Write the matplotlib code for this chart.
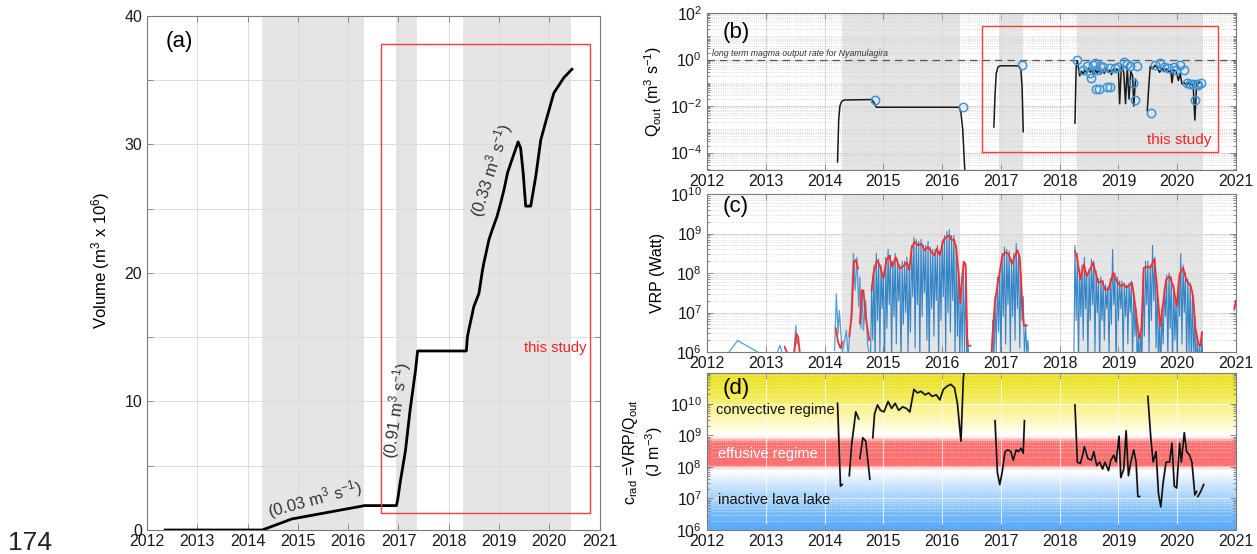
import numpy as np
import matplotlib
matplotlib.use('Agg')
import matplotlib.pyplot as plt
from matplotlib.ticker import FixedLocator, FuncFormatter, MultipleLocator, NullFormatter
from matplotlib.patches import Rectangle

plt.rcParams['font.family'] = ['Liberation Sans', 'DejaVu Sans']
plt.rcParams['mathtext.fontset'] = 'custom'
plt.rcParams['mathtext.rm'] = 'Liberation Sans'
plt.rcParams['mathtext.it'] = 'Liberation Sans:italic'
plt.rcParams['mathtext.default'] = 'regular'

# ---------------- data ----------------
years = list(range(2012, 2022))
shade_spans = [(2014.29, 2016.31), (2016.96, 2017.37), (2018.29, 2020.44)]

# (a) cumulative volume (10^6 m^3)
vol_t = [2012.36, 2014.29, 2014.88, 2016.33, 2016.96, 2016.99, 2017.03, 2017.14, 2017.23, 2017.34, 2017.38,
         2018.35, 2018.37, 2018.40, 2018.50, 2018.60, 2018.67, 2018.70, 2018.80, 2018.86, 2018.96, 2019.03,
         2019.10, 2019.17, 2019.23, 2019.30, 2019.38, 2019.43, 2019.48, 2019.53, 2019.63, 2019.73, 2019.83,
         2019.96, 2020.09, 2020.19, 2020.29, 2020.45]
vol_v = [0, 0, 0.86, 1.9, 1.9, 2.5, 3.6, 6.2, 9.3, 12.45, 13.93,
         13.93, 15.0, 15.6, 17.4, 18.4, 20.2, 20.8, 22.6, 23.3, 24.4, 25.4,
         26.5, 27.8, 28.5, 29.3, 30.2, 29.7, 27.8, 25.2, 25.2, 27.5, 30.35,
         32.2, 34.0, 34.6, 35.2, 35.85]

# (b) Q_out, log10 (m^3/s)
q_seg1_t = [2014.22, 2014.24, 2014.26, 2014.29, 2014.33, 2014.80, 2014.84, 2014.88, 2016.29, 2016.32, 2016.35, 2016.37, 2016.39]
q_seg1_v = [-4.4, -2.6, -2.0, -1.8, -1.74, -1.72, -1.85, -2.05, -2.05, -2.3, -3.0, -4.0, -5.0]
q_seg2_t = [2016.88, 2016.90, 2016.92, 2016.95, 2016.99, 2017.30, 2017.34, 2017.36, 2017.38]
q_seg2_v = [-2.9, -1.5, -0.6, -0.32, -0.27, -0.27, -0.45, -1.2, -3.1]
q_seg3_t = [2018.26, 2018.28, 2018.30, 2018.34, 2018.37, 2018.40, 2018.43, 2018.46, 2018.49, 2018.52, 2018.55,
            2018.58, 2018.61, 2018.64, 2018.67, 2018.70, 2018.73, 2018.76, 2018.79, 2018.82, 2018.85, 2018.88,
            2018.91, 2018.94, 2018.97, 2019.00, 2019.02, 2019.05, 2019.09, 2019.12, 2019.15, 2019.18, 2019.21,
            2019.24, 2019.26, 2019.29]
q_seg3_v = [-2.74, -0.3, -0.05, -0.7, -0.5, -0.62, -0.42, -0.6, -0.38, -0.55, -0.42,
            -0.65, -0.45, -0.58, -0.4, -0.62, -0.45, -0.6, -0.38, -0.55, -0.45, -0.65,
            -0.42, -0.5, -0.4, -0.5, -1.9, -0.25, -0.55, -1.9, -0.35, -1.7, -0.5,
            -0.7, -2.0, -0.85]
q_seg4_t = [2019.49, 2019.52, 2019.54, 2019.58, 2019.62, 2019.66, 2019.70, 2019.74, 2019.78, 2019.82, 2019.86,
            2019.89, 2019.91, 2019.94, 2019.98, 2020.02, 2020.05, 2020.08, 2020.12, 2020.16, 2020.20, 2020.24,
            2020.27, 2020.30, 2020.33, 2020.38]
q_seg4_v = [-2.2, -1.0, -0.3, -0.4, -0.25, -0.35, -0.55, -0.35, -0.5, -0.4, -0.55,
            -0.45, -1.0, -0.45, -0.5, -0.9, -0.6, -1.05, -1.0, -1.1, -1.0, -1.1,
            -1.05, -2.6, -1.05, -1.0]
q_circ_t = [2014.85, 2016.36, 2017.36, 2018.30, 2018.40, 2018.46, 2018.52, 2018.54, 2018.56, 2018.60, 2018.63,
            2018.62, 2018.67, 2018.68, 2018.74, 2018.81, 2018.86, 2018.86, 2018.94, 2019.00, 2019.09, 2019.14,
            2019.20, 2019.25, 2019.28, 2019.32, 2019.55, 2019.62, 2019.71, 2019.77, 2019.85, 2019.94, 2019.98,
            2020.04, 2020.11, 2020.16, 2020.22, 2020.27, 2020.31, 2020.33, 2020.36, 2020.40]
q_circ_v = [-1.74, -2.02, -0.23, 0.0, -0.45, -0.28, -0.6, -0.81, -0.24, -0.14, -0.45,
            -1.28, -1.28, -0.28, -0.3, -1.17, -1.17, -0.36, -0.36, -0.3, -0.1, -0.2,
            -0.28, -1.0, -1.75, -0.28, -2.29, -0.24, -0.17, -0.3, -0.36, -0.3, -0.45,
            -0.24, -0.45, -1.0, -1.05, -1.05, -1.75, -1.05, -1.1, -1.02]
q_longterm = 1.0

# (c) VRP, log10 (W): raw (blue) and smoothed (red)
vrp_early_t = [[2012.36, 2012.52, 2012.92], [2013.19, 2013.24, 2013.28], [2013.48, 2013.51, 2013.53, 2013.55],
               [2014.17, 2014.20, 2014.23, 2014.25, 2014.30, 2014.34, 2014.37, 2014.40, 2014.45, 2014.49,
                2014.52, 2014.55, 2014.58, 2014.60, 2014.62, 2014.64, 2014.66, 2014.70, 2014.73, 2014.76],
               [2020.97, 2021.0]]
vrp_early_v = [[5.97, 6.29, 5.95], [5.97, 6.17, 5.97], [5.97, 6.67, 6.2, 6.3],
               [6.04, 7.47, 6.46, 7.05, 6.0, 6.3, 6.55, 5.9, 6.9, 8.5,
                7.56, 8.4, 7.14, 7.9, 6.6, 7.56, 6.55, 7.3, 6.2, 5.95],
               [7.05, 7.3]]
vrp_blue1_range = (2014.78, 2016.46)
vrp_blue1 = [5.6, 7.7, 6.3, 8.2, 5.7, 8.5, 6.8, 8.35, 6.0, 8.2, 7.1, 8.0, 5.5, 8.4, 6.6, 8.6, 7.2, 8.45, 5.8, 8.3,
             6.9, 8.5, 6.2, 8.35, 7.3, 8.2, 5.6, 8.3, 6.7, 8.3, 7.0, 8.4, 5.9, 8.15, 6.5, 8.7, 7.4, 8.9, 6.1, 8.85,
             7.2, 8.8, 5.7, 8.85, 6.9, 8.7, 7.5, 8.7, 6.3, 8.8, 5.6, 8.65, 7.1, 8.6, 6.4, 8.6, 7.3, 8.7, 5.8, 8.55,
             6.8, 8.8, 7.4, 8.95, 6.0, 9.05, 7.0, 9.1, 6.5, 8.95, 7.3, 8.95, 5.9, 8.7, 6.4, 8.1, 5.6, 7.5, 6.0, 8.3,
             5.7, 8.25, 5.5, 6.3, 5.5]
vrp_blue2_range = (2016.84, 2017.48)
vrp_blue2 = [5.5, 6.8, 5.6, 7.4, 6.0, 7.9, 6.5, 8.1, 5.7, 8.5, 6.9, 8.65, 6.2, 8.6, 7.2, 8.55, 5.9, 8.35, 6.9, 8.5,
             6.3, 8.75, 7.1, 8.5, 6.1, 8.0, 6.8, 7.4, 5.8, 6.7, 6.0, 6.3, 5.5]
vrp_blue3_range = (2018.24, 2020.44)
vrp_blue3 = [5.6, 8.7, 6.8, 8.5, 5.8, 8.1, 6.9, 8.2, 6.3, 8.4, 7.1, 8.0, 5.7, 8.1, 6.8, 8.35, 7.2, 8.3, 6.0, 8.05,
             7.0, 7.85, 5.6, 7.9, 6.8, 7.8, 6.3, 7.7, 7.1, 7.65, 5.9, 7.85, 6.7, 8.6, 7.2, 8.0, 5.5, 7.9, 6.8, 7.8,
             7.1, 7.8, 5.8, 7.75, 6.9, 7.7, 6.2, 7.75, 7.0, 7.8, 5.7, 7.55, 6.4, 7.1, 5.6, 6.55, 5.5, 6.6, 5.8, 8.0,
             6.4, 8.3, 7.2, 8.3, 5.9, 8.2, 6.8, 8.7, 7.3, 8.4, 6.1, 7.7, 5.6, 6.9, 5.5, 7.1, 6.2, 7.6, 6.9, 7.95,
             5.8, 8.0, 6.6, 7.9, 5.6, 7.7, 6.3, 7.35, 5.9, 7.8, 6.9, 8.5, 6.2, 8.2, 7.0, 8.0, 5.7, 7.85, 6.0, 7.75,
             5.6, 7.55, 5.8, 6.9, 5.5, 6.4, 5.6, 6.2, 5.5, 6.5, 5.5]
vrp_red_t = [[2013.32, 2013.37], [2013.48, 2013.52, 2013.55, 2013.58], [2014.19, 2014.23, 2014.27, 2014.30],
             [2014.42, 2014.46, 2014.50, 2014.53, 2014.57], [2014.60, 2014.63, 2014.66, 2014.70, 2014.76],
             [2014.80, 2014.83, 2014.89, 2014.94, 2015.00, 2015.05, 2015.10, 2015.15, 2015.21, 2015.28, 2015.35,
              2015.40, 2015.44, 2015.48, 2015.53, 2015.59, 2015.65, 2015.70, 2015.76, 2015.82, 2015.87, 2015.91,
              2015.96, 2016.02, 2016.08, 2016.12, 2016.16, 2016.20, 2016.24, 2016.28, 2016.31, 2016.34, 2016.37,
              2016.40, 2016.43, 2016.48],
             [2016.84, 2016.87, 2016.90, 2016.96, 2017.02, 2017.07, 2017.13, 2017.19, 2017.23, 2017.28, 2017.32,
              2017.36, 2017.39, 2017.44],
             [2018.26, 2018.30, 2018.35, 2018.41, 2018.46, 2018.57, 2018.61, 2018.66, 2018.72, 2018.77, 2018.83,
              2018.91, 2018.97, 2019.03, 2019.08, 2019.14, 2019.23, 2019.28, 2019.35, 2019.39, 2019.43, 2019.49,
              2019.54, 2019.61, 2019.65, 2019.71, 2019.76, 2019.81, 2019.87, 2019.93, 2019.99, 2020.04, 2020.10,
              2020.16, 2020.23, 2020.27, 2020.31, 2020.36, 2020.39, 2020.42],
             [2020.97, 2021.0]]
vrp_red_v = [[6.13, 5.95], [5.95, 6.46, 6.38, 5.95], [6.6, 6.25, 6.1, 6.25],
             [6.4, 6.9, 8.29, 8.33, 8.12], [6.72, 7.56, 7.56, 6.89, 6.3],
             [7.56, 7.98, 8.32, 8.19, 7.86, 8.32, 8.44, 8.15, 8.40, 8.11, 8.19,
              8.27, 8.07, 8.62, 8.79, 8.70, 8.74, 8.57, 8.66, 8.53, 8.45, 8.62,
              8.45, 8.83, 8.92, 8.96, 8.83, 8.85, 8.62, 7.99, 7.23, 7.90, 8.28,
              8.19, 6.16, 6.16],
             [5.95, 6.71, 7.30, 7.85, 8.40, 8.53, 8.48, 8.23, 8.40, 8.58, 8.40,
              7.30, 6.67, 6.67],
             [8.56, 8.35, 7.84, 8.22, 7.92, 8.26, 8.00, 7.75, 7.80, 7.58, 7.58,
              8.00, 7.80, 7.67, 7.71, 7.63, 7.75, 7.24, 6.35, 6.56, 8.13, 8.16,
              8.13, 8.35, 7.75, 6.65, 7.24, 7.83, 7.92, 7.67, 7.16, 7.97, 8.13,
              7.80, 7.67, 7.40, 6.60, 6.20, 6.15, 6.50],
             [7.1, 7.3]]

# (d) c_rad = VRP/Q_out, log10 (J m^-3)
crad_t = [[2014.22, 2014.27, 2014.30],
          [2014.42, 2014.46, 2014.53, 2014.58],
          [2014.60, 2014.65, 2014.70, 2014.77],
          [2014.82, 2014.85, 2014.90, 2014.95, 2015.01, 2015.08, 2015.14, 2015.20, 2015.26, 2015.33, 2015.39,
           2015.45, 2015.52, 2015.58, 2015.64, 2015.71, 2015.77, 2015.83, 2015.90, 2015.96, 2016.02, 2016.09,
           2016.15, 2016.21, 2016.26, 2016.32, 2016.36, 2016.38],
          [2016.90, 2016.94, 2016.98, 2017.02, 2017.07, 2017.12, 2017.17, 2017.21, 2017.26, 2017.30, 2017.34,
           2017.38, 2017.40],
          [2018.26, 2018.30, 2018.35, 2018.39, 2018.42, 2018.48, 2018.54, 2018.58, 2018.63, 2018.68, 2018.73,
           2018.77, 2018.83, 2018.87, 2018.92, 2018.96, 2019.01, 2019.04, 2019.09, 2019.13, 2019.17, 2019.21,
           2019.26, 2019.30, 2019.33, 2019.36],
          [2019.50, 2019.55, 2019.59, 2019.64, 2019.68, 2019.72, 2019.76, 2019.81, 2019.87, 2019.91, 2019.95,
           2019.99, 2020.04, 2020.07, 2020.12, 2020.16, 2020.21, 2020.25, 2020.30, 2020.33],
          [2020.35, 2020.40, 2020.45]]
crad_v = [[10.01, 7.39, 7.44],
          [7.72, 8.70, 9.74, 9.52],
          [8.26, 8.92, 8.81, 7.61],
          [8.92, 9.68, 9.96, 9.79, 9.74, 10.07, 9.85, 10.01, 9.79, 9.90, 9.85,
           9.74, 10.45, 10.34, 10.39, 10.28, 10.34, 10.23, 10.28, 10.12, 10.45, 10.56,
           10.61, 10.50, 10.01, 8.81, 10.78, 11.2],
          [9.46, 7.82, 7.44, 7.82, 8.48, 8.54, 8.48, 8.21, 8.54, 8.48, 8.59,
           8.43, 9.46],
          [9.96, 8.15, 8.10, 8.37, 8.64, 8.26, 8.21, 8.48, 8.04, 8.15, 7.93,
           8.15, 7.88, 8.21, 8.37, 8.15, 8.97, 7.66, 7.93, 9.14, 7.72, 8.15,
           8.54, 8.15, 7.06, 7.06],
          [10.23, 8.92, 8.15, 8.48, 7.17, 6.73, 7.50, 8.15, 8.15, 8.75, 7.39,
           7.33, 8.75, 8.15, 9.08, 8.48, 8.37, 8.15, 7.11, 7.22],
          [7.06, 7.22, 7.44]]

# ---------------- styling helpers ----------------
SPINE = '#7a7a7a'
SHADE = '#e5e5e5'
TICKFS = 11.5

fig = plt.figure(figsize=(12.57, 5.54), dpi=100)


def style_axes(ax):
    for s in ax.spines.values():
        s.set_color(SPINE)
        s.set_linewidth(0.8)
    ax.tick_params(which='both', direction='in', top=True, right=True, colors=SPINE,
                   labelcolor='#1a1a1a', labelsize=TICKFS, width=0.6)
    ax.tick_params(which='major', length=4)
    ax.tick_params(which='minor', length=2)
    ax.tick_params(axis='x', pad=3)
    ax.set_xlim(2012, 2021)
    ax.set_xticks(years)
    ax.set_xticklabels([str(y) for y in years])


def decade_fmt(v, pos):
    e = int(round(np.log10(v)))
    return r'$10^{%d}$' % e


def shade(ax, z=0.3):
    for a, b in shade_spans:
        ax.axvspan(a, b, color=SHADE, lw=0, zorder=z)


# ---------------- (a) ----------------
axa = fig.add_axes([0.117, 0.0433, 0.360, 0.928])
style_axes(axa)
shade(axa)
axa.set_axisbelow(True)
axa.grid(True, color='#dcdcdc', lw=0.7, zorder=0.5)
axa.set_ylim(0, 40)
axa.yaxis.set_major_locator(MultipleLocator(5))
axa.yaxis.set_major_formatter(FuncFormatter(lambda v, p: '%d' % v if v % 10 == 0 else ''))
axa.plot(vol_t, vol_v, color='k', lw=2.0, zorder=3)
axa.add_patch(Rectangle((2016.65, 1.3), 4.15, 36.5, fill=False, ec='#ff3b3b', lw=1.0, zorder=4))
axa.text(2020.12, 14.2, 'this study', color='#ff2020', fontsize=10.5, ha='center', va='center', zorder=5)
axa.text(0.04, 0.95, '(a)', transform=axa.transAxes, fontsize=16, va='center', ha='left')
axa.set_ylabel(r'Volume (m$^3$ x 10$^6$)', fontsize=12)
axa.yaxis.set_label_coords(-0.077, 0.524)
axa.text(2015.34, 2.4, r'(0.03 m$^3$ s$^{-1}$)', rotation=15, ha='center', va='center', fontsize=12,
         color='#333333', rotation_mode='anchor')
axa.text(2016.96, 9.3, r'(0.91 m$^3$ s$^{-1}$)', rotation=82, ha='center', va='center', fontsize=12,
         color='#333333', rotation_mode='anchor')
axa.text(2018.85, 28.0, r'(0.33 m$^3$ s$^{-1}$)', rotation=72, ha='center', va='center', fontsize=12,
         color='#333333', rotation_mode='anchor')

# ---------------- (b) ----------------
left, width = 0.5625, 0.4208
axb = fig.add_axes([left, 0.6931, width, 0.2834])
axb.set_yscale('log')
style_axes(axb)
shade(axb)
axb.set_axisbelow(True)
axb.set_ylim(10 ** -4.75, 100)
axb.yaxis.set_major_locator(FixedLocator([1e-4, 1e-2, 1, 1e2]))
axb.yaxis.set_major_formatter(FuncFormatter(decade_fmt))
axb.yaxis.set_minor_locator(FixedLocator([m * 10.0 ** e for e in range(-5, 2) for m in range(1, 10)]))
axb.yaxis.set_minor_formatter(NullFormatter())
axb.grid(True, which='major', color='#d8d8d8', lw=0.7)
axb.grid(True, which='minor', axis='y', color='#d0d0d0', lw=0.6, ls=':')
for t, v in [(q_seg1_t, q_seg1_v), (q_seg2_t, q_seg2_v), (q_seg3_t, q_seg3_v), (q_seg4_t, q_seg4_v)]:
    axb.plot(t, 10 ** np.array(v), color='#1a1a1a', lw=1.1, zorder=3)
axb.plot(q_circ_t, 10 ** np.array(q_circ_v), 'o', mfc='none', mec='#3b95d9', ms=6, mew=1.1, zorder=4)
axb.axhline(q_longterm, color='#555555', lw=0.9, ls=(0, (6, 4)), zorder=2)
axb.text(2012.09, q_longterm * 1.2, 'long term magma output rate for Nyamulagira', fontsize=6.3,
         style='italic', color='#333333', va='bottom', ha='left')
axb.plot([2016.67, 2020.70, 2020.70, 2016.67, 2016.67],
         [10 ** -3.99, 10 ** -3.99, 10 ** 1.45, 10 ** 1.45, 10 ** -3.99], color='#ff3b3b', lw=1.0, zorder=5)
axb.text(2020.03, 10 ** -3.46, 'this study', color='#ff2020', fontsize=11, ha='center', va='center')
axb.text(0.03, 0.875, '(b)', transform=axb.transAxes, fontsize=16, va='center', ha='left')
axb.set_ylabel(r'Q$_{out}$ (m$^3$ s$^{-1}$)', fontsize=11.5)

# ---------------- (c) ----------------
axc = fig.add_axes([left, 0.3646, width, 0.2852])
axc.set_yscale('log')
style_axes(axc)
shade(axc)
axc.set_axisbelow(True)
axc.set_ylim(1e6, 1e10)
axc.yaxis.set_major_locator(FixedLocator([1e6, 1e7, 1e8, 1e9, 1e10]))
axc.yaxis.set_major_formatter(FuncFormatter(decade_fmt))
axc.yaxis.set_minor_locator(FixedLocator([m * 10.0 ** e for e in range(6, 10) for m in range(2, 10)]))
axc.yaxis.set_minor_formatter(NullFormatter())
axc.grid(True, which='major', color='#d8d8d8', lw=0.7)
axc.grid(True, which='minor', axis='y', color='#d0d0d0', lw=0.6, ls=':')
for t, v in zip(vrp_early_t, vrp_early_v):
    axc.plot(t, 10 ** np.array(v), color='#3d95d6', lw=0.9, alpha=0.9, zorder=2)
for (t0, t1), v in [(vrp_blue1_range, vrp_blue1), (vrp_blue2_range, vrp_blue2), (vrp_blue3_range, vrp_blue3)]:
    tt = np.linspace(t0, t1, len(v))
    axc.plot(tt, 10 ** np.array(v), color='#0a6fc0', lw=0.8, alpha=0.8, zorder=2)
for t, v in zip(vrp_red_t, vrp_red_v):
    axc.plot(t, 10 ** np.array(v), color='#ff2a2a', lw=1.3, zorder=3)
axc.text(0.03, 0.92, '(c)', transform=axc.transAxes, fontsize=16, va='center', ha='left')
axc.set_ylabel('VRP (Watt)', fontsize=11.5)

# ---------------- (d) ----------------
pos_d = [left, 0.0433, width, 0.2834]
d_top = 10.97
bg = fig.add_axes(pos_d, zorder=0)
lv = np.linspace(6.0, d_top, 500)
anc = [6.0, 6.6, 7.2, 7.6, 7.88, 8.05, 8.76, 8.95, 9.1, 9.5, 10.0, 10.5, d_top]
cols = [(0.33, 0.66, 0.98), (0.50, 0.75, 0.98), (0.72, 0.86, 0.99), (0.88, 0.94, 1.0), (1.0, 1.0, 1.0),
        (1.0, 0.44, 0.44), (1.0, 0.44, 0.44), (1.0, 1.0, 1.0), (1.0, 1.0, 0.93), (0.99, 0.97, 0.70),
        (0.96, 0.94, 0.45), (0.93, 0.90, 0.22), (0.91, 0.86, 0.06)]
rgb = np.stack([np.interp(lv, anc, [c[i] for c in cols]) for i in range(3)], axis=-1)
bg.imshow(rgb[:, None, :], origin='lower', extent=[0, 1, 0, 1], aspect='auto', interpolation='bilinear')
bg.set_xlim(0, 1)
bg.set_ylim(0, 1)
bg.axis('off')

axd = fig.add_axes(pos_d, zorder=1)
axd.patch.set_alpha(0)
axd.set_yscale('log')
style_axes(axd)
axd.set_ylim(1e6, 10 ** d_top)
axd.yaxis.set_major_locator(FixedLocator([1e6, 1e7, 1e8, 1e9, 1e10]))
axd.yaxis.set_major_formatter(FuncFormatter(decade_fmt))
axd.yaxis.set_minor_locator(FixedLocator([m * 10.0 ** e for e in range(6, 11) for m in range(2, 10)]))
axd.yaxis.set_minor_formatter(NullFormatter())
axd.grid(True, which='major', color='white', lw=0.8, alpha=0.7)
axd.grid(True, which='minor', axis='y', color='white', lw=0.6, ls=':', alpha=0.7)
for t, v in zip(crad_t, crad_v):
    axd.plot(t, 10 ** np.array(v), color='#b5b5b5', lw=1.8, alpha=0.35, zorder=2)
    axd.plot(t, 10 ** np.array(v), color='#111111', lw=1.2, zorder=3)
axd.text(2012.16, 10 ** 9.8, 'convective regime', fontsize=10.5, va='center', ha='left', color='#111111')
axd.text(2012.19, 10 ** 8.4, 'effusive regime', fontsize=10.5, va='center', ha='left', color='white')
axd.text(2012.19, 10 ** 6.95, 'inactive lava lake', fontsize=10.5, va='center', ha='left', color='#111111')
axd.text(0.03, 0.9, '(d)', transform=axd.transAxes, fontsize=16, va='center', ha='left')
axd.set_ylabel('c$_{rad}$ =VRP/Q$_{out}$\n(J m$^{-3}$)', fontsize=11.5)

fig.text(0.006, 0.008, '174', fontsize=19, color='#222222')

fig.savefig('out.png', dpi=100)
